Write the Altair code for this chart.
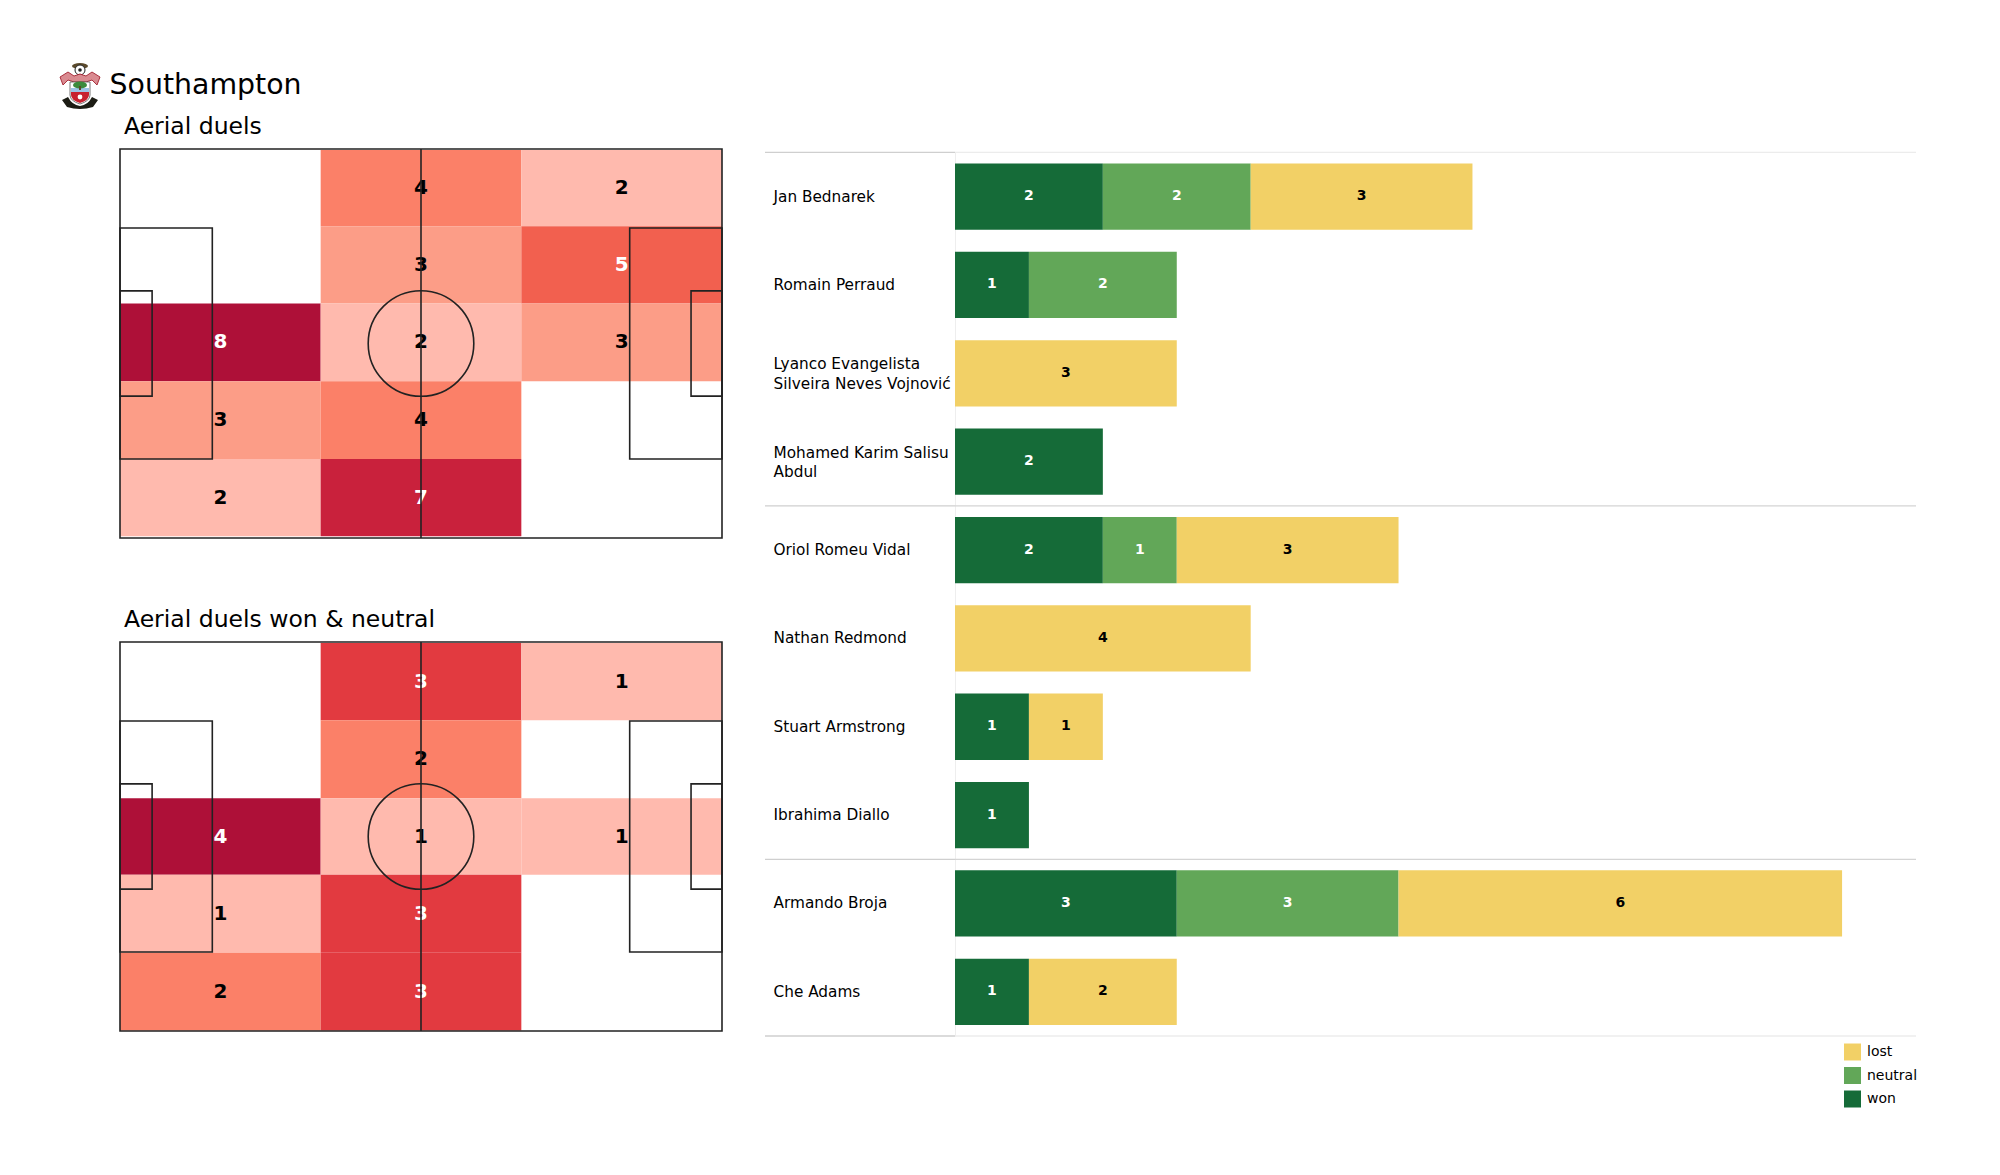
import urllib.parse
import altair as alt
import pandas as pd

TEAM = "Southampton"
FONT = "DejaVu Sans"

# heat-map grid (pitch metres)
col_edges = [0, 35, 70, 105]
row_edges_all = [0.17, 13.5, 27.0, 40.6, 54.2, 67.7]
row_edges_wn = [0.17, 13.7, 27.3, 40.7, 54.3, 67.9]
all_duels = [[0, 4, 2], [0, 3, 5], [8, 2, 3], [3, 4, 0], [2, 7, 0]]
won_neutral = [[0, 3, 1], [0, 2, 0], [4, 1, 1], [1, 3, 0], [2, 3, 0]]
all_counts = [2, 3, 4, 5, 7, 8]
all_colors = ["#ffbaae", "#fc9d87", "#fb8068", "#f2604f", "#c9213c", "#ae1038"]
wn_counts = [1, 2, 3, 4]
wn_colors = ["#ffbaae", "#fb8068", "#e23a40", "#ae1038"]

# pitch furniture (metres)
box_x = [[0, 16.1], [88.9, 105], [0, 5.6], [99.6, 105], [0, 105]]
box_y = [[13.8, 54.2], [13.8, 54.2], [24.8, 43.2], [24.8, 43.2], [0, 68]]

# players
players = ["Jan Bednarek", "Romain Perraud", "Lyanco Evangelista\nSilveira Neves Vojnović",
           "Mohamed Karim Salisu\nAbdul", "Oriol Romeu Vidal", "Nathan Redmond",
           "Stuart Armstrong", "Ibrahima Diallo", "Armando Broja", "Che Adams"]
won = [2, 1, 0, 2, 2, 0, 1, 1, 3, 1]
neutral = [2, 2, 0, 0, 1, 0, 0, 0, 3, 0]
lost = [3, 0, 3, 0, 3, 4, 1, 0, 6, 2]
statuses = ["lost", "neutral", "won"]
status_colors = ["#f2d066", "#62a758", "#156b38"]
group_lines = [0, 4, 8, 10]
left_line_colors = ["#cfcfcf", "#cfcfcf", "#cfcfcf", "#cfcfcf"]
right_line_colors = ["#ececec", "#d4d4d4", "#d4d4d4", "#ececec"]

CREST = """<svg xmlns='http://www.w3.org/2000/svg' viewBox='0 0 42 48' width='42' height='48'>
<ellipse cx='21' cy='4' rx='8' ry='3' fill='#5b4a2c'/>
<circle cx='21' cy='8' r='5' fill='#fff' stroke='#222' stroke-width='1'/>
<circle cx='21' cy='8' r='1.8' fill='#222'/>
<path d='M1 15 L9 10 L15 14 L21 12 L27 14 L33 10 L41 15 L38 23 L33 18 L27 20 L15 20 L9 18 L4 23 Z' fill='#d98a90' stroke='#a3202f' stroke-width='0.9'/>
<path d='M11 20 H31 V33 Q31 39 21 42 Q11 39 11 33 Z' fill='#fff' stroke='#555' stroke-width='0.8'/>
<rect x='12' y='26' width='18' height='4' fill='#9cc3e6'/>
<path d='M12 30 H30 V33 Q30 38 21 41 Q12 38 12 33 Z' fill='#c8202f'/>
<ellipse cx='21' cy='23' rx='7' ry='3.6' fill='#3c8a3c'/>
<rect x='20' y='24' width='2' height='4' fill='#5b4a2c'/>
<circle cx='21' cy='35' r='2.4' fill='#fff'/>
<path d='M3 38 L9 35 Q13 43 21 44 Q29 43 33 35 L39 38 L34 45 Q21 49 8 45 Z' fill='#1c1c14'/>
</svg>"""
crest_url = "data:image/svg+xml," + urllib.parse.quote(CREST)


def pitch(grid, row_edges, counts, colors, light_from, title, header=False):
    rows = []
    for r, row in enumerate(grid):
        for c, v in enumerate(row):
            if v > 0:
                rows.append({"x0": col_edges[c], "x1": col_edges[c + 1],
                             "y0": row_edges[r], "y1": row_edges[r + 1],
                             "xm": (col_edges[c] + col_edges[c + 1]) / 2,
                             "ym": (row_edges[r] + row_edges[r + 1]) / 2, "count": v})
    df = pd.DataFrame(rows)
    xs = alt.Scale(domain=[0, 105], nice=False, zero=False)
    ys = alt.Scale(domain=[0, 68], nice=False, zero=False, reverse=True)
    cells = alt.Chart(df).mark_rect(strokeWidth=0).encode(
        x=alt.X("x0:Q", scale=xs, axis=None), x2="x1:Q",
        y=alt.Y("y0:Q", scale=ys, axis=None), y2="y1:Q",
        fill=alt.Fill("count:O", scale=alt.Scale(domain=counts, range=colors), legend=None),
    )
    labels = alt.Chart(df).mark_text(font=FONT, fontSize=20, fontWeight="bold", baseline="middle").encode(
        x=alt.X("xm:Q", scale=xs, axis=None),
        y=alt.Y("ym:Q", scale=ys, axis=None),
        text="count:Q",
        color=alt.condition(f"datum.count >= {light_from}", alt.value("white"), alt.value("black")),
    )
    boxes_df = pd.DataFrame({"a": [b[0] for b in box_x], "b": [b[1] for b in box_x],
                             "c": [b[0] for b in box_y], "d": [b[1] for b in box_y]})
    boxes = alt.Chart(boxes_df).mark_rect(fillOpacity=0, stroke="#222222", strokeWidth=1.6).encode(
        x=alt.X("a:Q", scale=xs, axis=None), x2="b:Q",
        y=alt.Y("c:Q", scale=ys, axis=None), y2="d:Q",
    )
    mid = alt.Chart(pd.DataFrame({"x": [52.5], "a": [0], "b": [68]})).mark_rule(color="#222222", strokeWidth=1.6).encode(
        x=alt.X("x:Q", scale=xs, axis=None),
        y=alt.Y("a:Q", scale=ys, axis=None), y2="b:Q",
    )
    circle = alt.Chart(pd.DataFrame({"x": [52.5], "y": [34]})).mark_point(
        shape="circle", filled=False, stroke="#222222", strokeWidth=1.6, size=11150, opacity=1).encode(
        x=alt.X("x:Q", scale=xs, axis=None),
        y=alt.Y("y:Q", scale=ys, axis=None),
    )
    heading = alt.Chart(pd.DataFrame({"t": [title]})).mark_text(
        font=FONT, fontSize=23.5, align="left", baseline="alphabetic", color="black").encode(
        text="t:N", x=alt.value(4), y=alt.value(-15))
    layers = [cells, labels, boxes, mid, circle, heading]
    if header:
        layers.append(alt.Chart(pd.DataFrame({"u": [crest_url]})).mark_image(width=42, height=48).encode(
            url="u:N", x=alt.value(-40), y=alt.value(-63)))
        layers.append(alt.Chart(pd.DataFrame({"t": [TEAM]})).mark_text(
            font=FONT, fontSize=28.4, align="left", baseline="alphabetic", color="black").encode(
            text="t:N", x=alt.value(-10.5), y=alt.value(-55.5)))
    return alt.layer(*layers).properties(width=602, height=389)


left = alt.vconcat(
    pitch(all_duels, row_edges_all, all_counts, all_colors, 5, "Aerial duels", header=True),
    pitch(won_neutral, row_edges_wn, wn_counts, wn_colors, 3, "Aerial duels won & neutral"),
    spacing=104, bounds="flush",
).resolve_scale(fill="independent")

rows = []
for i, p in enumerate(players):
    for order, (s, v) in enumerate([("won", won[i]), ("neutral", neutral[i]), ("lost", lost[i])]):
        if v > 0:
            rows.append({"player": p, "status": s, "value": v, "order": order})
bar_df = pd.DataFrame(rows)

RANGE = [3.4, 887]
band = alt.Scale(domain=players, range=RANGE, paddingInner=0.25, paddingOuter=0.125)
xbar = alt.Scale(domain=[0, 13], nice=False, zero=True)
stacked = alt.Chart(bar_df).transform_stack(
    stack="value", groupby=["player"], sort=[alt.SortField("order")], as_=["v0", "v1"]
).transform_calculate(mid="(datum.v0 + datum.v1) / 2")
bars = stacked.mark_bar(strokeWidth=0).encode(
    x=alt.X("v0:Q", scale=xbar, axis=None), x2="v1:Q",
    y=alt.Y("player:N", scale=band, title=None, axis=alt.Axis(
        ticks=False, grid=False, domainColor="#eeeeee", domainWidth=1, labelAlign="left",
        labelPadding=182, labelFont=FONT, labelFontSize=15.3, labelColor="black", labelLimit=400,
        labelBaseline="middle", labelLineHeight=19.7, labelExpr="split(datum.label, '\\n')",
        labelOffset={"condition": {"test": "indexof(datum.value, '\\n') >= 0", "value": -9}, "value": 0})),
    color=alt.Color("status:N", scale=alt.Scale(domain=statuses, range=status_colors), legend=alt.Legend(
        title=None, orient="none", legendX=889, legendY=894.5, symbolType="square", symbolSize=289,
        symbolStrokeWidth=0, symbolOpacity=1, rowPadding=6.5, labelFont=FONT, labelFontSize=14,
        labelColor="black", labelOffset=6)),
)
bar_text = stacked.mark_text(font=FONT, fontSize=14, fontWeight="bold", baseline="middle", dy=-0.5).encode(
    x=alt.X("mid:Q", scale=xbar, axis=None),
    y=alt.Y("player:N", scale=band, axis=None),
    text="value:Q",
    color=alt.condition("datum.status == 'lost'", alt.value("black"), alt.value("white")),
)
line_df = pd.DataFrame({"g": group_lines, "lc": left_line_colors, "rc": right_line_colors})
gy = alt.Scale(domain=[0, 10], range=RANGE, nice=False, zero=False)
line_left = alt.Chart(line_df).mark_rule(strokeWidth=1.3).encode(
    y=alt.Y("g:Q", scale=gy, axis=None),
    x=alt.value(-190), x2=alt.value(0), color=alt.Color("lc:N", scale=None),
)
line_right = alt.Chart(line_df).mark_rule(strokeWidth=1.3).encode(
    y=alt.Y("g:Q", scale=gy, axis=None),
    x=alt.value(0), x2=alt.value(961), color=alt.Color("rc:N", scale=None),
)
right = alt.layer(line_right, line_left, bars, bar_text).resolve_scale(
    y="independent", color="independent"
).properties(width=961, height=887)

chart = alt.hconcat(left, right, spacing=835, bounds="flush").properties(
    padding={"left": 51, "top": 54, "right": 0, "bottom": 0}, background="white"
).configure_view(stroke=None)

chart.save("out.html", embed_options={"renderer": "svg", "actions": False})
